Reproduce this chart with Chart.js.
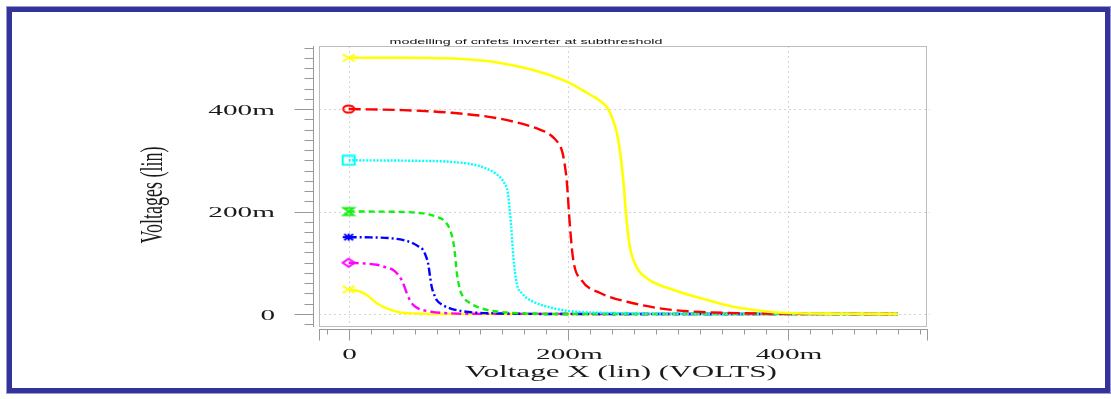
<!DOCTYPE html>
<html>
<head>
<meta charset="utf-8">
<title>modelling of cnfets inverter at subthreshold</title>
<script src="https://cdn.jsdelivr.net/npm/chart.js@4.4.1/dist/chart.umd.min.js"></script>
<style>
  html, body { margin: 0; padding: 0; background: #fff; }
  #wrap { width: 1111px; height: 399px; }
</style>
</head>
<body>
<div id="wrap"><canvas id="transferChart" width="1111" height="399"></canvas></div>
<script>
// All voltages in mV. vin = Voltage X, vout = output of each inverter.
// VDD = 500m
const vinA = [0, 50, 100, 138, 168, 200, 212, 223, 230, 235, 239, 242, 244.5, 247, 250, 253, 256, 262, 274, 296, 320, 350, 380, 400, 450, 500];
const voutA = [500, 500, 498, 490, 476, 452, 438, 424, 414, 404, 388, 370, 350, 318, 261, 183, 131, 92, 66, 47, 31, 14, 5, 2, 0.5, 0];
// VDD = 400m
const vinB = [0, 47, 92, 138, 174, 182, 188, 191, 194, 195.5, 197, 198.5, 201.5, 204.5, 212, 229, 259, 290, 320, 360, 400, 500];
const voutB = [400, 398, 393, 381, 360, 352, 341, 333, 320, 307, 287, 261, 170, 105, 66, 41, 21, 9, 4, 1.5, 0.5, 0];
// VDD = 300m
const vinC = [0, 60, 92, 120, 135, 141, 145, 148, 150, 153, 158, 168, 185, 200, 250, 300, 500];
const voutC = [300, 299, 297, 288, 272, 258, 235, 170, 110, 60, 40, 24, 12, 6, 1.5, 0.5, 0];
// VDD = 200m
const vinD = [0, 40, 65, 80, 88, 93, 96, 98.5, 101, 104, 110, 117, 128, 138, 160, 200, 500];
const voutD = [200, 199.5, 197, 190, 180, 160, 131, 80, 50, 34, 22, 14, 7, 4, 1, 0, 0];
// VDD = 150m
const vinE = [0, 20, 37.5, 50, 58.6, 64, 67.7, 70.5, 72.3, 74, 75.6, 78, 80.2, 86, 92.3, 102, 113, 140, 200, 500];
const voutE = [150, 149.5, 148, 144, 138, 131, 125, 112, 99, 75, 53, 37, 27, 17, 11, 6, 3, 1, 0, 0];
// VDD = 100m
const vinF = [0, 15, 25.6, 34, 40.5, 45, 48.3, 51, 52.9, 55.5, 58.6, 64, 71, 86, 120, 500];
const voutF = [100, 98.5, 96, 91, 86, 77, 66, 52, 41, 28, 18, 10, 6, 2, 0.3, 0];
// VDD = 50m
const vinG = [0, 10.4, 16.5, 25.6, 34.7, 46.8, 62, 100, 500];
const voutG = [48, 43.5, 37, 21, 11, 3, 1, 0, 0];

const xLabeledTicks = [0, 200, 400];
const yLabeledTicks = [0, 200, 400];
const minorTickStep = 20;

const titleText = "modelling of cnfets inverter at subthreshold";
const xTitle = "Voltage X (lin) (VOLTS)";
const yTitle = "Voltages (lin)";

const fmtVolt = (v) => (v === 0 ? "0" : v + "m");

// small stretched markers like the original waveform viewer
function makeMarker(kind, color) {
  const cv = document.createElement("canvas");
  cv.width = 16;
  cv.height = 12;
  const c = cv.getContext("2d");
  c.strokeStyle = color;
  c.fillStyle = color;
  c.lineWidth = 2;
  c.beginPath();
  if (kind === "x") {
    c.moveTo(2, 2.5); c.lineTo(14, 9.5);
    c.moveTo(14, 2.5); c.lineTo(2, 9.5);
  } else if (kind === "circle") {
    c.ellipse(8, 6, 5.5, 3.6, 0, 0, Math.PI * 2);
  } else if (kind === "square") {
    c.rect(2, 1.5, 12, 9);
  } else if (kind === "bowtie") {
    c.moveTo(3, 2.5); c.lineTo(13, 2.5); c.lineTo(3, 9.5); c.lineTo(13, 9.5); c.closePath();
  } else if (kind === "star") {
    c.moveTo(2, 6); c.lineTo(14, 6);
    c.moveTo(8, 2.5); c.lineTo(8, 9.5);
    c.moveTo(3.5, 3); c.lineTo(12.5, 9);
    c.moveTo(12.5, 3); c.lineTo(3.5, 9);
  } else if (kind === "diamond") {
    c.moveTo(8, 2); c.lineTo(14, 6); c.lineTo(8, 10); c.lineTo(2, 6); c.closePath();
  }
  c.stroke();
  return cv;
}

const seriesStyles = [
  { x: vinA, y: voutA, color: "#ffff00", dash: [], width: 2.6, marker: "x" },
  { x: vinB, y: voutB, color: "#ff0000", dash: [12, 5], width: 2.4, marker: "circle" },
  { x: vinC, y: voutC, color: "#00ffff", dash: [2, 1.5], width: 2.4, marker: "square" },
  { x: vinD, y: voutD, color: "#11ee11", dash: [6, 4], width: 2.4, marker: "bowtie" },
  { x: vinE, y: voutE, color: "#0000ff", dash: [8, 3, 2, 3], width: 2.4, marker: "star" },
  { x: vinF, y: voutF, color: "#ff00ff", dash: [10, 4, 3, 4], width: 2.4, marker: "diamond" },
  { x: vinG, y: voutG, color: "#ffff00", dash: [], width: 2.4, marker: "x" },
];

const datasets = seriesStyles.map((s) => ({
  data: s.x.map((v, i) => ({ x: v, y: s.y[i] })),
  borderColor: s.color,
  backgroundColor: s.color,
  borderWidth: s.width,
  borderDash: s.dash,
  fill: false,
  cubicInterpolationMode: "monotone",
  pointStyle: makeMarker(s.marker, s.color),
  pointRadius: (ctx) => (ctx.dataIndex === 0 ? 6 : 0),
}));

function stretchedText(c, text, x, y, font, sx, align, baseline) {
  c.save();
  c.font = font;
  c.textAlign = align;
  c.textBaseline = baseline || "middle";
  c.translate(x, y);
  c.scale(sx, 1);
  c.fillText(text, 0, 0);
  c.restore();
}

// frame, offset axes, dashed grid and all the texts
const waveFrame = {
  id: "waveFrame",
  beforeDraw(chart) {
    const c = chart.ctx;
    c.save();
    c.fillStyle = "#ffffff";
    c.fillRect(0, 0, chart.width, chart.height);
    c.strokeStyle = "#9a9ad0";
    c.lineWidth = 1;
    c.strokeRect(6.5, 6.5, 1104, 387);
    c.strokeStyle = "#33339a";
    c.lineWidth = 5;
    c.strokeRect(9.5, 9.5, 1098, 381);
    c.restore();
  },
  beforeDatasetsDraw(chart) {
    const c = chart.ctx;
    const a = chart.chartArea;
    const xs = chart.scales.x;
    const ys = chart.scales.y;
    c.save();
    c.strokeStyle = "#d4d4d4";
    c.lineWidth = 1;
    c.setLineDash([2, 3]);
    xLabeledTicks.forEach((v) => {
      const px = Math.round(xs.getPixelForValue(v)) + 0.5;
      c.beginPath(); c.moveTo(px, a.top); c.lineTo(px, a.bottom); c.stroke();
    });
    yLabeledTicks.forEach((v) => {
      const py = Math.round(ys.getPixelForValue(v)) + 0.5;
      c.beginPath(); c.moveTo(a.left, py); c.lineTo(a.right + 3, py); c.stroke();
    });
    c.setLineDash([]);
    c.strokeStyle = "#bdbdbd";
    c.strokeRect(a.left + 0.5, a.top + 0.5, a.right - a.left - 1, a.bottom - a.top - 1);
    c.restore();
  },
  afterDraw(chart) {
    const c = chart.ctx;
    const a = chart.chartArea;
    const xs = chart.scales.x;
    const ys = chart.scales.y;
    c.save();
    c.strokeStyle = "#999999";
    c.lineWidth = 1;

    // y axis, drawn left of the frame
    const yAxisX = a.left - 5.5;
    c.beginPath(); c.moveTo(yAxisX, a.top); c.lineTo(yAxisX, a.bottom); c.stroke();
    for (let v = -minorTickStep; v <= ys.max; v += minorTickStep) {
      const py = Math.round(ys.getPixelForValue(v)) + 0.5;
      const len = v % 200 === 0 ? 19 : 9;
      c.beginPath(); c.moveTo(yAxisX - len, py); c.lineTo(yAxisX, py); c.stroke();
    }

    // x axis, drawn below the frame
    const xAxisY = a.bottom + 2.5;
    c.beginPath(); c.moveTo(a.left, xAxisY); c.lineTo(a.right + 1, xAxisY); c.stroke();
    [a.left + 0.5, a.right + 0.5].forEach((px) => {
      c.beginPath(); c.moveTo(px, xAxisY); c.lineTo(px, xAxisY + 11); c.stroke();
    });
    for (let v = -minorTickStep; v <= xs.max; v += minorTickStep) {
      const px = Math.round(xs.getPixelForValue(v)) + 0.5;
      const len = v % 200 === 0 ? 11 : 5;
      c.beginPath(); c.moveTo(px, xAxisY); c.lineTo(px, xAxisY + len); c.stroke();
    }

    // texts
    c.fillStyle = "#1a1a1a";
    const serif = "'Liberation Serif', 'DejaVu Serif', serif";
    yLabeledTicks.forEach((v) => {
      stretchedText(c, fmtVolt(v), 275, ys.getPixelForValue(v) + 2, "15px " + serif, 1.95, "right");
    });
    xLabeledTicks.forEach((v) => {
      stretchedText(c, fmtVolt(v), xs.getPixelForValue(v) + 1, 355, "15px " + serif, 1.95, "center");
    });
    stretchedText(c, xTitle, 621, 373, "17px " + serif, 1.83, "center");

    c.save();
    c.font = "18px " + serif;
    c.textAlign = "center";
    c.textBaseline = "middle";
    c.translate(153, 195);
    c.scale(1.8, 1);
    c.rotate(-Math.PI / 2);
    c.fillText(yTitle, 0, 0);
    c.restore();

    c.fillStyle = "#111";
    const titleFont = "8px 'Liberation Sans', Arial, sans-serif";
    c.font = titleFont;
    const tw = c.measureText(titleText).width;
    stretchedText(c, titleText, 526, 44, titleFont, 273 / tw, "center", "alphabetic");
    c.restore();
  },
};

const ctx = document.getElementById("transferChart").getContext("2d");
new Chart(ctx, {
  type: "line",
  data: { datasets: datasets },
  options: {
    responsive: false,
    animation: false,
    layout: { padding: { left: 319, top: 46, right: 184, bottom: 72 } },
    plugins: { legend: { display: false }, tooltip: { enabled: false } },
    scales: {
      x: { type: "linear", min: -27, max: 526.5, display: false },
      y: { type: "linear", min: -25.4, max: 523, display: false },
    },
  },
  plugins: [waveFrame],
});
</script>
</body>
</html>
